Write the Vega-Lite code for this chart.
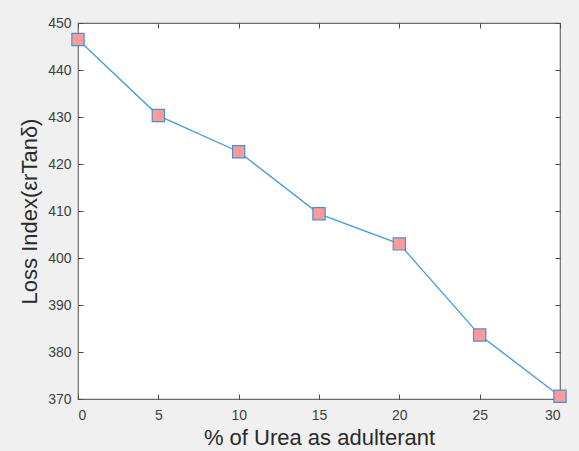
{
  "$schema": "https://vega.github.io/schema/vega-lite/v6.json",
  "width": 482,
  "height": 376,
  "autosize": "none",
  "padding": {"left": 78, "top": 23, "right": 19, "bottom": 52},
  "background": "#F0F0F0",
  "config": {
    "view": {"stroke": "#6b6b6b", "strokeWidth": 1.2, "fill": "white"},
    "axis": {
      "domain": false,
      "grid": false,
      "tickColor": "#4a4a4a",
      "tickSize": -5,
      "labelFont": "Liberation Sans",
      "labelFontSize": 14,
      "labelColor": "#404040",
      "titleFont": "Liberation Sans",
      "titleFontSize": 22,
      "titleFontWeight": "normal",
      "titleColor": "#2a2a2a"
    }
  },
  "data": {
    "values": [
      {"urea": 0, "loss": 446.5},
      {"urea": 5, "loss": 430.3},
      {"urea": 10, "loss": 422.6},
      {"urea": 15, "loss": 409.4},
      {"urea": 20, "loss": 403.0},
      {"urea": 25, "loss": 383.6},
      {"urea": 30, "loss": 370.6}
    ]
  },
  "resolve": {"axis": {"x": "independent", "y": "independent"}},
  "layer": [
    {
      "mark": {"type": "line", "color": "#4a9ad8", "strokeWidth": 1.3},
      "encoding": {
        "x": {
          "field": "urea", "type": "quantitative",
          "scale": {"domain": [0, 30], "nice": false},
          "axis": {"orient": "bottom", "values": [0, 5, 10, 15, 20, 25, 30], "title": "% of Urea as adulterant", "labelPadding": 14, "titlePadding": 5}
        },
        "y": {
          "field": "loss", "type": "quantitative",
          "scale": {"domain": [370, 450], "nice": false, "zero": false},
          "axis": {"orient": "left", "values": [370, 380, 390, 400, 410, 420, 430, 440, 450], "title": "Loss Index(εrTanδ)", "labelPadding": 12, "titlePadding": 6}
        }
      }
    },
    {
      "mark": {"type": "point", "shape": "square", "filled": true, "size": 150, "fill": "#FF9A9A", "stroke": "#4a90d0", "strokeWidth": 1.2, "opacity": 1},
      "encoding": {
        "x": {
          "field": "urea", "type": "quantitative",
          "axis": {"orient": "top", "values": [0, 5, 10, 15, 20, 25, 30], "labels": false, "title": null}
        },
        "y": {
          "field": "loss", "type": "quantitative",
          "axis": {"orient": "right", "values": [370, 380, 390, 400, 410, 420, 430, 440, 450], "labels": false, "title": null}
        }
      }
    }
  ]
}
